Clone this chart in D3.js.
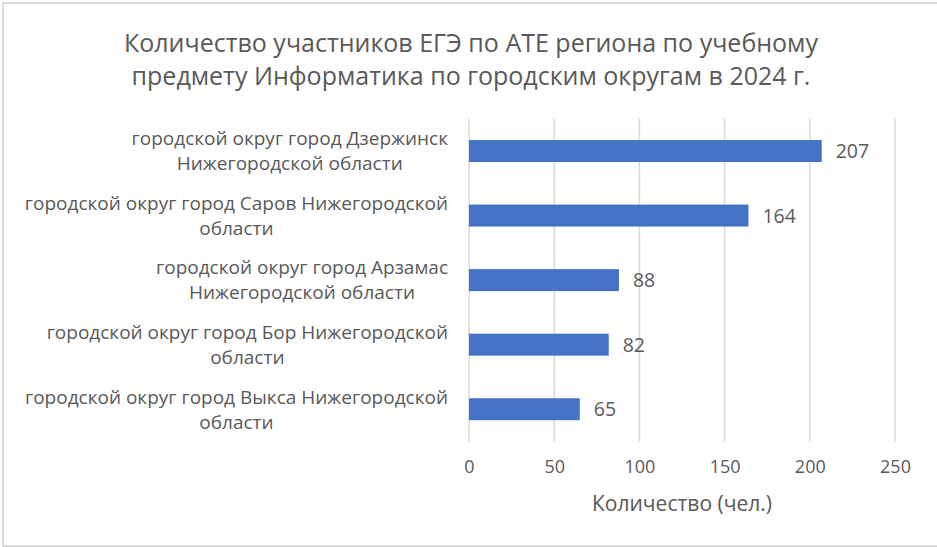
<!DOCTYPE html>
<html>
<head>
<meta charset="utf-8">
<script src="https://cdn.jsdelivr.net/npm/d3@7"></script>
<style>
  html, body { margin: 0; padding: 0; background: #fff; }
  svg { display: block; }
</style>
</head>
<body>
<svg id="chart" width="937" height="547"></svg>
<script>
// Participants in the Informatics exam by city district, 2024
const titleLines = [
  "Количество участников ЕГЭ по АТЕ региона по учебному",
  "предмету Информатика по городским округам в 2024 г."
];
const categories = [
  "городской округ город Дзержинск Нижегородской области",
  "городской округ город Саров Нижегородской области",
  "городской округ город Арзамас Нижегородской области",
  "городской округ город Бор Нижегородской области",
  "городской округ город Выкса Нижегородской области"
];
const values = [207, 164, 88, 82, 65];
const xTicks = [0, 50, 100, 150, 200, 250];
const xAxisTitle = "Количество (чел.)";

const FONT = "'Open Sans', 'Noto Sans', sans-serif";
const TEXT = "#595959";
const BAR = "#4472C4";
const GRID = "#d9d9d9";

const svg = d3.select("#chart");

// chart frame
svg.append("rect")
  .attr("x", 3).attr("y", 3)
  .attr("width", 945).attr("height", 543)
  .attr("fill", "#fff")
  .attr("stroke", GRID)
  .attr("stroke-width", 2);

const plot = { left: 469, right: 895, top: 118.75, bottom: 441.5 };

const x = d3.scaleLinear().domain([0, 250]).range([plot.left, plot.right]);
const y = d3.scaleBand()
  .domain(categories)
  .range([plot.top, plot.bottom])
  .paddingInner(0.66)
  .paddingOuter(0.33);

// title
svg.append("text")
  .attr("x", 471)
  .attr("y", 52)
  .attr("text-anchor", "middle")
  .attr("font-family", FONT)
  .attr("font-size", 25)
  .attr("fill", TEXT)
  .selectAll("tspan")
  .data(titleLines)
  .join("tspan")
  .attr("x", 471)
  .attr("dy", (d, i) => i === 0 ? 0 : 33)
  .text(d => d);

// vertical gridlines
svg.append("g")
  .selectAll("line")
  .data(xTicks)
  .join("line")
  .attr("x1", d => x(d)).attr("x2", d => x(d))
  .attr("y1", plot.top).attr("y2", plot.bottom)
  .attr("stroke", GRID)
  .attr("stroke-width", 1.5);

// x axis tick labels
const xAxis = d3.axisBottom(x).tickValues(xTicks).tickSize(0).tickPadding(0);
const gx = svg.append("g")
  .attr("transform", `translate(0,${plot.bottom + 19})`)
  .call(xAxis);
gx.select(".domain").remove();
gx.selectAll("text")
  .attr("font-family", FONT)
  .attr("font-size", 18)
  .attr("fill", TEXT)
  .attr("dy", "0.71em");

// axis title
svg.append("text")
  .attr("x", (plot.left + plot.right) / 2)
  .attr("y", 511)
  .attr("text-anchor", "middle")
  .attr("font-family", FONT)
  .attr("font-size", 21)
  .attr("fill", TEXT)
  .text(xAxisTitle);

// bars
svg.append("g")
  .selectAll("rect")
  .data(values)
  .join("rect")
  .attr("x", x(0))
  .attr("y", (d, i) => y(categories[i]))
  .attr("width", d => x(d) - x(0))
  .attr("height", y.bandwidth())
  .attr("fill", BAR);

// value labels
svg.append("g")
  .selectAll("text")
  .data(values)
  .join("text")
  .attr("x", d => x(d) + 14)
  .attr("y", (d, i) => y(categories[i]) + y.bandwidth() / 2)
  .attr("dy", "0.36em")
  .attr("font-family", FONT)
  .attr("font-size", 19.5)
  .attr("fill", TEXT)
  .text(d => d);

// category labels: wrapped, lines centred, block right-aligned to the axis
const labelSize = 19;
const labelRight = plot.left - 21;
const maxLineWidth = 432;
const lineHeight = 25;

const measure = svg.append("text")
  .attr("font-family", FONT)
  .attr("font-size", labelSize)
  .attr("visibility", "hidden");
function textWidth(s) {
  measure.text(s);
  return measure.node().getComputedTextLength();
}
function wrap(label) {
  const words = label.split(" ");
  const lines = [];
  let cur = "";
  for (const w of words) {
    const test = cur ? cur + " " + w : w;
    if (cur && textWidth(test) > maxLineWidth) {
      lines.push(cur);
      cur = w;
    } else {
      cur = test;
    }
  }
  if (cur) lines.push(cur);
  return lines;
}

const labelsG = svg.append("g");
categories.forEach(cat => {
  const lines = wrap(cat);
  const blockW = d3.max(lines, textWidth);
  const cx = labelRight - blockW / 2;
  const cy = y(cat) + y.bandwidth() / 2;
  const startY = cy - (lines.length - 1) * lineHeight / 2;
  labelsG.append("text")
    .attr("text-anchor", "middle")
    .attr("font-family", FONT)
    .attr("font-size", labelSize)
    .attr("fill", TEXT)
    .selectAll("tspan")
    .data(lines)
    .join("tspan")
    .attr("x", cx)
    .attr("y", (d, i) => startY + i * lineHeight)
    .attr("dy", "0.36em")
    .text(d => d);
});
measure.remove();
</script>
</body>
</html>
